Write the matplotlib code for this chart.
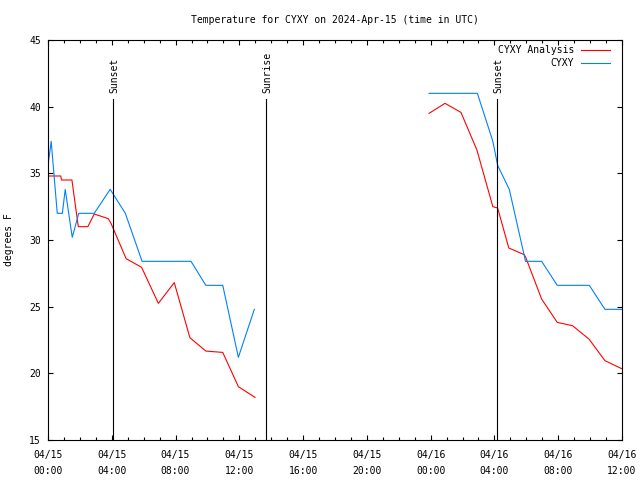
import matplotlib
matplotlib.use("Agg")
import matplotlib.pyplot as plt
from matplotlib.ticker import MultipleLocator

# hours since 2024-04-15 00:00 UTC
obs_hours_1 = [0.0, 0.2, 0.58, 0.9, 1.08, 1.52, 1.93, 2.9, 3.9, 4.85, 5.9, 6.9, 7.9, 8.97, 9.9, 10.96, 11.94, 12.94]
obs_temp_1 = [35.6, 37.4, 32.0, 32.0, 33.8, 30.2, 32.0, 32.0, 33.8, 32.0, 28.4, 28.4, 28.4, 28.4, 26.6, 26.6, 21.2, 24.8]
obs_hours_2 = [23.9, 24.9, 25.9, 26.93, 27.9, 28.2, 28.93, 29.95, 30.96, 31.94, 32.95, 33.95, 34.93, 35.98]
obs_temp_2 = [41.0, 41.0, 41.0, 41.0, 37.4, 35.6, 33.8, 28.4, 28.4, 26.6, 26.6, 26.6, 24.8, 24.8]

ana_hours_1 = [0.0, 0.8, 0.85, 1.5, 1.9, 2.5, 2.9, 3.78, 3.95, 4.9, 5.87, 6.92, 7.92, 8.9, 9.9, 10.96, 11.94, 12.98]
ana_temp_1 = [34.8, 34.8, 34.5, 34.5, 31.0, 31.0, 31.95, 31.6, 31.25, 28.6, 27.95, 25.25, 26.8, 22.67, 21.67, 21.57, 19.0, 18.2]
ana_hours_2 = [23.9, 24.9, 25.9, 26.9, 27.9, 28.2, 28.9, 29.87, 29.96, 30.96, 31.94, 32.9, 33.93, 34.93, 35.98]
ana_temp_2 = [39.5, 40.25, 39.57, 36.75, 32.5, 32.4, 29.4, 28.9, 28.7, 25.57, 23.82, 23.57, 22.57, 20.95, 20.35]

events_hours = [4.08, 13.67, 28.16]
events_labels = ["Sunset", "Sunrise", "Sunset"]

tick_hours = [0, 4, 8, 12, 16, 20, 24, 28, 32, 36]
tick_labels = ["04/15\n00:00", "04/15\n04:00", "04/15\n08:00", "04/15\n12:00", "04/15\n16:00",
               "04/15\n20:00", "04/16\n00:00", "04/16\n04:00", "04/16\n08:00", "04/16\n12:00"]

plt.rcParams['font.family'] = ['DejaVu Sans Mono']
plt.rcParams['font.size'] = 7

fig = plt.figure(figsize=(6.4, 4.8), dpi=100)
ax = fig.add_axes([48/640, 40/480, 574/640, 400/480])

red = '#ff0000'
blue = '#0080ff'
lw = 0.8
ax.plot(ana_hours_1, ana_temp_1, color=red, lw=lw, label='CYXY Analysis')
ax.plot(ana_hours_2, ana_temp_2, color=red, lw=lw)
ax.plot(obs_hours_1, obs_temp_1, color=blue, lw=lw, label='CYXY')
ax.plot(obs_hours_2, obs_temp_2, color=blue, lw=lw)

for h, lab in zip(events_hours, events_labels):
    ax.plot([h, h], [15, 40.55], color='black', lw=lw)
    ax.text(h + 0.1, 41.0, lab, rotation=90, ha='center', va='bottom', fontsize=7)

ax.set_xlim(0, 36)
ax.set_ylim(15, 45)
ax.set_xticks(tick_hours)
ax.set_xticklabels(tick_labels, linespacing=1.65)
ax.xaxis.set_minor_locator(MultipleLocator(1))
ax.set_yticks([15, 20, 25, 30, 35, 40, 45])
ax.tick_params(direction='in', which='both', top=True, right=True, length=3.5, width=0.8)
ax.tick_params(which='minor', length=2.2)
ax.tick_params(axis='x', pad=7.5)
ax.tick_params(axis='y', pad=5)
for s in ax.spines.values():
    s.set_linewidth(0.8)

ax.set_ylabel('degrees F', labelpad=11)
ax.set_title('Temperature for CYXY on 2024-Apr-15 (time in UTC)', fontsize=7, pad=12)

leg = ax.legend(loc='upper right', frameon=False, markerfirst=False, handlelength=3.0,
                bbox_to_anchor=(610/640, 1 - 45/480), bbox_transform=fig.transFigure,
                borderaxespad=0, borderpad=0, labelspacing=0.35, handletextpad=0.7)
for t in leg.get_texts():
    t.set_ha('right')

fig.savefig('out.png', dpi=100)
